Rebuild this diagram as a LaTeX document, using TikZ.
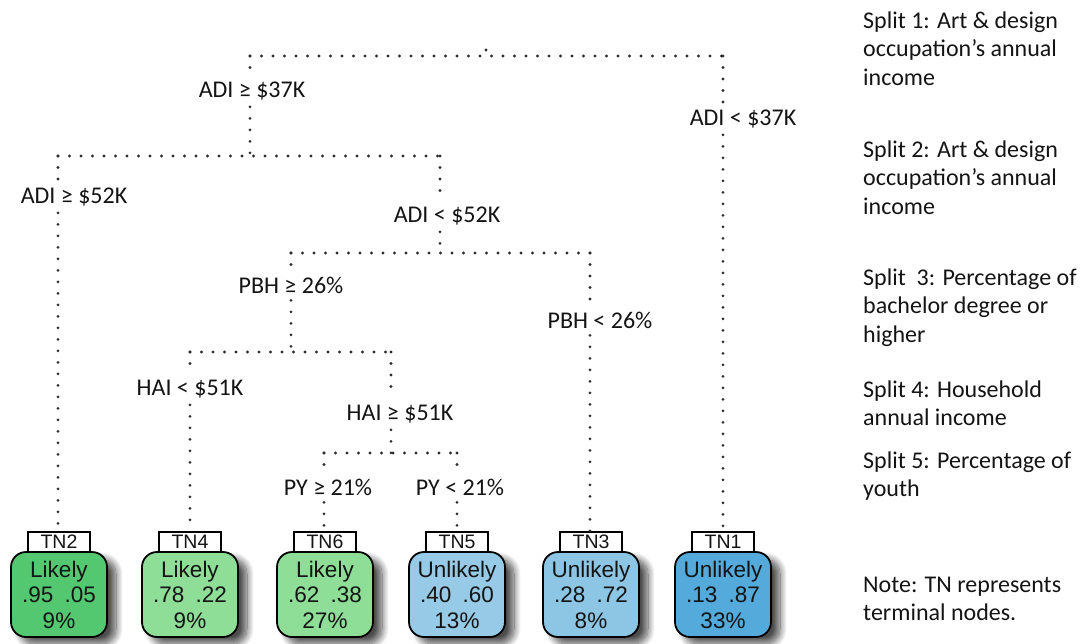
\documentclass[tikz,border=0pt]{standalone}
\usepackage{fontspec}
\setmainfont{Carlito}
\newfontfamily\boxfont{Liberation Sans}
\usetikzlibrary{shadows.blur}
\definecolor{dotgray}{RGB}{45,45,45}
\definecolor{textgray}{RGB}{20,20,20}
\definecolor{tnA}{RGB}{84,200,112}
\definecolor{tnB}{RGB}{142,222,152}
\definecolor{tnC}{RGB}{150,202,230}
\definecolor{tnD}{RGB}{140,198,228}
\definecolor{tnE}{RGB}{84,170,218}
\begin{document}
\begin{tikzpicture}[x=1pt,y=-1pt,
  dotline/.style={draw=dotgray, line width=3.1pt, line cap=round, dash pattern=on 0pt off 11.5pt},
  cond/.style={font=\fontsize{24}{28}\selectfont, text=textgray, inner xsep=0pt, inner ysep=7pt, anchor=base},
  tnlab/.style={draw=black, line width=1.4pt, fill=white, minimum width=62pt, minimum height=20pt, inner sep=0pt, font=\boxfont\fontsize{19.5}{19.5}\selectfont, text=textgray},
  leaf/.style={draw=black, line width=1.8pt, rounded corners=15pt, minimum width=96pt, minimum height=85pt, inner sep=0pt, align=center, font=\boxfont\fontsize{22.5}{25.5}\selectfont, text=textgray, blur shadow={shadow xshift=9pt, shadow yshift=-7pt, shadow blur steps=14, shadow blur radius=7pt, shadow opacity=70}},
  note/.style={font=\fontsize{24}{28.5}\selectfont, align=left, anchor=base west, inner sep=0pt, text=textgray}]
\useasboundingbox (0,0) rectangle (1081,643);

% split coordinates
\coordinate (s1t) at (486,50);
\coordinate (s1) at (486,56);
\coordinate (a1) at (250,56);  \coordinate (b1) at (723,56);
\coordinate (s2) at (250,156); \coordinate (a2) at (58,156);  \coordinate (b2) at (440,156);
\coordinate (s3) at (440,253); \coordinate (a3) at (291,253); \coordinate (b3) at (590,253);
\coordinate (s4) at (291,352); \coordinate (a4) at (190,352); \coordinate (b4) at (391,352);
\coordinate (s5) at (391,453); \coordinate (a5) at (324,453); \coordinate (b5) at (457,453);

% condition labels
\node[cond] (l1a) at (252,97)  {ADI ≥ \$37K};
\node[cond] (l1b) at (743,125) {ADI < \$37K};
\node[cond] (l2a) at (74,203)  {ADI ≥ \$52K};
\node[cond] (l2b) at (447,222) {ADI < \$52K};
\node[cond] (l3a) at (291,293) {PBH ≥ 26\%};
\node[cond] (l3b) at (600,328) {PBH < 26\%};
\node[cond] (l4a) at (190,395) {HAI < \$51K};
\node[cond] (l4b) at (400,420) {HAI ≥ \$51K};
\node[cond] (l5a) at (328,495) {PY ≥ 21\%};
\node[cond] (l5b) at (460,495) {PY < 21\%};

% terminal nodes
\node[leaf, fill=tnA] (tn2) at (59,594.5)  {Likely\\.95\enspace.05\\9\%};
\node[leaf, fill=tnB] (tn4) at (190,594.5) {Likely\\.78\enspace.22\\9\%};
\node[leaf, fill=tnB] (tn6) at (325,594.5) {Likely\\.62\enspace.38\\27\%};
\node[leaf, fill=tnC] (tn5) at (457,594.5) {Unlikely\\.40\enspace.60\\13\%};
\node[leaf, fill=tnD] (tn3) at (591,594.5) {Unlikely\\.28\enspace.72\\8\%};
\node[leaf, fill=tnE] (tn1) at (723,594.5) {Unlikely\\.13\enspace.87\\33\%};
\node[tnlab] (tn2l) at (59,542)  {TN2};
\node[tnlab] (tn4l) at (190,542) {TN4};
\node[tnlab] (tn6l) at (325,542) {TN6};
\node[tnlab] (tn5l) at (457,542) {TN5};
\node[tnlab] (tn3l) at (591,542) {TN3};
\node[tnlab] (tn1l) at (723,542) {TN1};

% connectors
\draw[dotline] (s1t) -- (s1);
\draw[dotline] (a1) -- (b1);
\draw[dotline] (a1) -- (l1a.north -| a1);
\draw[dotline] (l1a.south -| a1) -- (s2);
\draw[dotline] (b1) -- (l1b.north -| b1);
\draw[dotline] (l1b.south -| b1) -- (tn1l.north -| b1);

\draw[dotline] (a2) -- (b2);
\draw[dotline] (a2) -- (l2a.north -| a2);
\draw[dotline] (l2a.south -| a2) -- (tn2l.north -| a2);
\draw[dotline] (b2) -- (l2b.north -| b2);
\draw[dotline] (l2b.south -| b2) -- (s3);

\draw[dotline] (a3) -- (b3);
\draw[dotline] (a3) -- (l3a.north -| a3);
\draw[dotline] (l3a.south -| a3) -- (s4);
\draw[dotline] (b3) -- (l3b.north -| b3);
\draw[dotline] (l3b.south -| b3) -- (tn3l.north -| b3);

\draw[dotline] (a4) -- (b4);
\draw[dotline] (a4) -- (l4a.north -| a4);
\draw[dotline] (l4a.south -| a4) -- (tn4l.north -| a4);
\draw[dotline] (b4) -- (l4b.north -| b4);
\draw[dotline] (l4b.south -| b4) -- (s5);

\draw[dotline] (a5) -- (b5);
\draw[dotline] (a5) -- (l5a.north -| a5);
\draw[dotline] (l5a.south -| a5) -- (tn6l.north -| a5);
\draw[dotline] (b5) -- (l5b.north -| b5);
\draw[dotline] (l5b.south -| b5) -- (tn5l.north -| b5);

% legend text (anchor base = baseline of last line)
\node[note] (n1) at (863,85)    {Split 1: Art \& design\\occupation’s annual\\income};
\node[note] (n2) at (863,214)   {Split 2: Art \& design\\occupation’s annual\\income};
\node[note] (n3) at (863,342)   {Split\ \ 3: Percentage of\\bachelor degree or\\higher};
\node[note] (n4) at (863,425.5) {Split 4: Household\\annual income};
\node[note] (n5) at (863,496.5) {Split 5: Percentage of\\youth};
\node[note] (n6) at (863,620.5) {Note: TN represents\\terminal nodes.};
\end{tikzpicture}
\end{document}
